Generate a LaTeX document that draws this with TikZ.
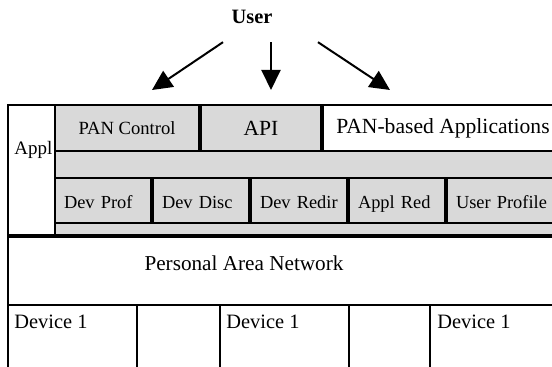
\documentclass[tikz,border=0pt]{standalone}
\usepackage{fontspec}
\setmainfont{Liberation Serif}
\usetikzlibrary{positioning,arrows.meta}

\begin{document}
\begin{tikzpicture}[
  x=0.5pt, y=-0.5pt,
  box/.style={rectangle, draw, line width=1pt, fill=gray!30, inner sep=0pt, anchor=north west},
  topbox/.style={box, minimum height=23pt, font=\fontsize{9.3}{11}\selectfont},
  devbox/.style={box, minimum height=22.5pt, text width=39pt, inner xsep=4.5pt, align=left,
    text height=8.5pt, text depth=0.5pt, font=\fontsize{9.2}{11}\selectfont},
  plain/.style={box, fill=white},
  label/.style={anchor=west, inner sep=0pt, font=\fontsize{10.2}{12}\selectfont},
  arrow/.style={-{Triangle[length=10pt, width=9.5pt]}, line width=1pt},
]
  \useasboundingbox (0,0) rectangle (552,367);
  \clip (0,0) rectangle (552,367);

  % application layer
  \node[plain, minimum width=23.5pt, minimum height=65pt] (appl) at (7,104) {};
  \node[label, font=\fontsize{9.5}{11}\selectfont] (appltext) at (14,150) {Appl};
  \node[box, minimum width=258pt, minimum height=65pt] (core) at (54,104) {};

  \node[topbox, minimum width=72pt] (panctl) at (54,104) {PAN Control};
  \node[topbox, minimum width=60pt, right=0pt of panctl, font=\fontsize{10.8}{13}\selectfont] (api) {API};
  \node[topbox, fill=white, minimum width=120pt, right=0pt of api, font=\fontsize{10.8}{13}\selectfont] (apps) {PAN-based Applications};

  \node[devbox] (devprof) at (54,177) {Dev Prof};
  \node[devbox, right=0pt of devprof] (devdisc) {Dev Disc};
  \node[devbox, right=0pt of devdisc] (devredir) {Dev Redir};
  \node[devbox, right=0pt of devredir] (applred) {Appl Red};
  \node[devbox, text width=51pt, right=0pt of applred] (userprof) {User Profile};

  % network and devices
  \node[plain, minimum width=281.5pt, minimum height=34pt] (pan) at (7,236) {};
  \node[label, anchor=center, font=\fontsize{10.6}{13}\selectfont] (pantext) at (244,263) {Personal Area Network};

  \node[plain, minimum width=64.5pt, minimum height=40pt] (dev1) at (7,304) {};
  \node[plain, minimum width=64.5pt, minimum height=40pt] (dev2) at (219,304) {};
  \node[plain, minimum width=64.5pt, minimum height=40pt] (dev3) at (429,304) {};
  \node[label] (dev1text) at (14,322) {Device 1};
  \node[label] (dev2text) at (226,322) {Device 1};
  \node[label] (dev3text) at (437,322) {Device 1};

  % user on top
  \node[inner sep=0pt, font=\bfseries\fontsize{10.2}{12}\selectfont] (user) at (252,17) {User};
  \coordinate (toctl) at (152,90);
  \coordinate (toapi) at (271,90);
  \coordinate (toapps) at (390,90);

  \draw[arrow] ([xshift=-14.5pt, yshift=-9pt]user.south) -- (toctl);
  \draw[arrow] ([xshift=9.5pt, yshift=-9pt]user.south) -- (toapi);
  \draw[arrow] ([xshift=33pt, yshift=-9pt]user.south) -- (toapps);
\end{tikzpicture}
\end{document}
